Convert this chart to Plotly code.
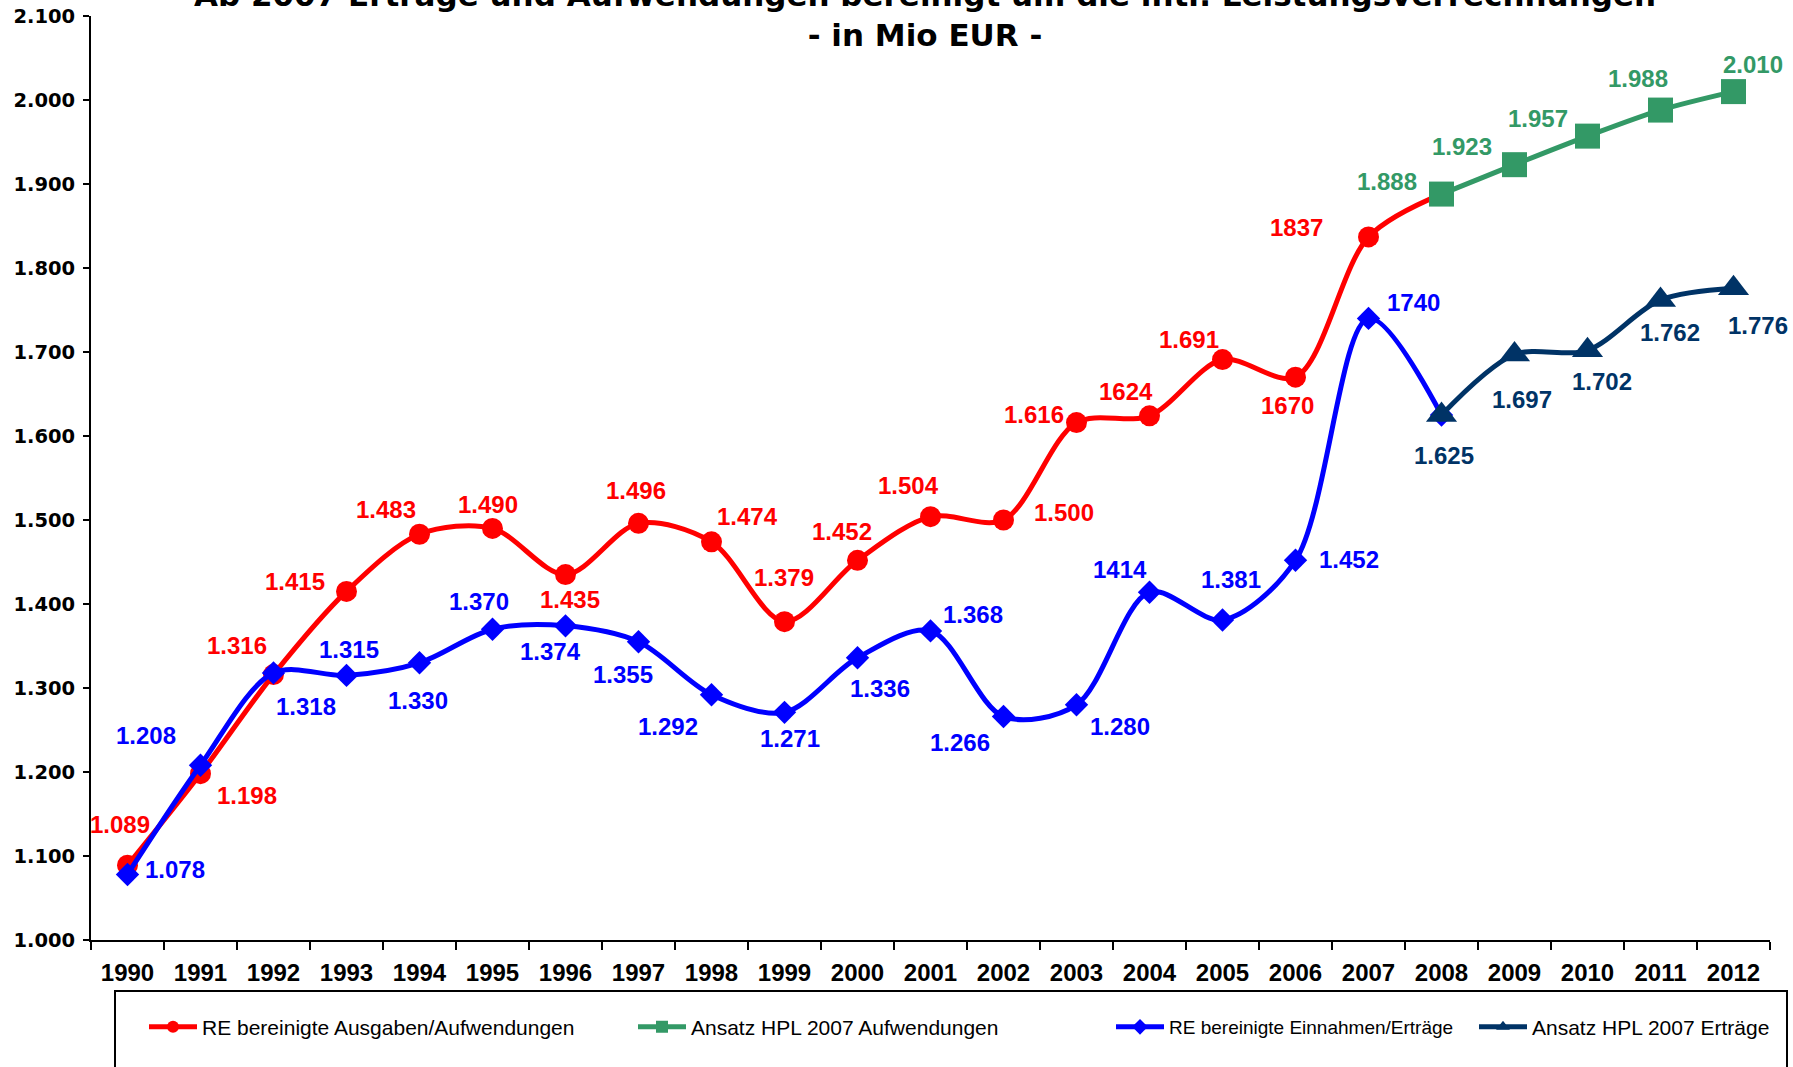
import plotly.graph_objects as go

# data (Mio EUR)
years = [str(y) for y in range(1990, 2013)]
years_ist = years[:19]      # 1990 - 2008
years_plan = years[18:]     # 2008 - 2012

ausgaben = [1089, 1198, 1316, 1415, 1483, 1490, 1435, 1496, 1474, 1379,
            1452, 1504, 1500, 1616, 1624, 1691, 1670, 1837, 1888]
ausgaben_labels = ["1.089", "1.198", "1.316", "1.415", "1.483", "1.490", "1.435", "1.496", "1.474", "1.379",
                   "1.452", "1.504", "1.500", "1.616", "1624", "1.691", "1670", "1837", ""]

einnahmen = [1078, 1208, 1318, 1315, 1330, 1370, 1374, 1355, 1292, 1271,
             1336, 1368, 1266, 1280, 1414, 1381, 1452, 1740, 1625]
einnahmen_labels = ["1.078", "1.208", "1.318", "1.315", "1.330", "1.370", "1.374", "1.355", "1.292", "1.271",
                    "1.336", "1.368", "1.266", "1.280", "1414", "1.381", "1.452", "1740", ""]

hpl_aufwendungen = [1888, 1923, 1957, 1988, 2010]
hpl_aufwendungen_labels = ["1.888", "1.923", "1.957", "1.988", "2.010"]

hpl_ertraege = [1625, 1697, 1702, 1762, 1776]
hpl_ertraege_labels = ["1.625", "1.697", "1.702", "1.762", "1.776"]

# label offsets from the marker in pixels (dx right, dy down)
off_ausgaben = [(-8, -41), (46, 22), (-37, -29), (-52, -10), (-34, -25), (-5, -24), (4, 25), (-3, -33),
                (36, -25), (-1, -44), (-16, -29), (-22, -31), (60, -8), (-43, -8), (-24, -24), (-34, -20),
                (-8, 28), (-72, -9), (0, 0)]
off_einnahmen = [(47, -5), (-55, -30), (32, 34), (2, -26), (-2, 38), (-14, -28), (-15, 26), (-16, 33),
                 (-44, 32), (5, 26), (22, 31), (42, -16), (-44, 26), (43, 22), (-30, -23), (8, -40),
                 (53, -1), (45, -16), (0, 0)]
off_hpl_aufw = [(-55, -13), (-53, -18), (-50, -18), (-23, -32), (19, -27)]
off_hpl_ertr = [(2, 40), (7, 45), (14, 31), (9, 33), (24, 37)]

RED = "#FF0000"
BLUE = "#0000FF"
GREEN = "#339966"
NAVY = "#003366"
ARIAL = "Liberation Sans, Arial, sans-serif"

W, H = 1793, 1067
ML, MR, MT, MB = 91, 23, 16, 127
PW, PH = W - ML - MR, H - MT - MB


def px_x(px):
    return (px - ML) / PW


def px_y(py):
    return (H - MB - py) / PH


def value_labels(xs, ys, labels, offsets, color):
    # category axis: annotations are placed by category index
    out = []
    for x, y, t, (dx, dy) in zip(xs, ys, labels, offsets):
        if not t:
            continue
        out.append(dict(
            x=years.index(x), y=y, xref="x", yref="y", text=t, showarrow=False,
            xanchor="center", yanchor="middle", xshift=dx, yshift=-dy,
            font=dict(family=ARIAL, size=24, color=color, weight="bold"),
        ))
    return out


fig = go.Figure()
fig.add_trace(go.Scatter(
    x=years_ist, y=ausgaben, name="RE bereinigte Ausgaben/Aufwendungen", legend="legend",
    mode="lines+markers",
    line=dict(color=RED, width=5, shape="spline", smoothing=0.9),
    marker=dict(symbol="circle", size=21, color=RED), cliponaxis=False,
))
fig.add_trace(go.Scatter(
    x=years_ist, y=einnahmen, name="RE bereinigte Einnahmen/Erträge", legend="legend3",
    mode="lines+markers",
    line=dict(color=BLUE, width=5, shape="spline", smoothing=0.9),
    marker=dict(symbol="diamond", size=18, color=BLUE), cliponaxis=False,
))
fig.add_trace(go.Scatter(
    x=years_plan, y=hpl_aufwendungen, name="Ansatz HPL 2007 Aufwendungen", legend="legend2",
    mode="lines+markers",
    line=dict(color=GREEN, width=5, shape="spline", smoothing=0.9),
    marker=dict(symbol="square", size=25, color=GREEN), cliponaxis=False,
))
fig.add_trace(go.Scatter(
    x=years_plan, y=hpl_ertraege, name="Ansatz HPL 2007 Erträge", legend="legend4",
    mode="lines+markers",
    line=dict(color=NAVY, width=5, shape="spline", smoothing=0.9),
    marker=dict(symbol="triangle-up", size=27, color=NAVY), cliponaxis=False,
))

annotations = []
annotations += value_labels(years_ist, ausgaben, ausgaben_labels, off_ausgaben, RED)
annotations += value_labels(years_ist, einnahmen, einnahmen_labels, off_einnahmen, BLUE)
annotations += value_labels(years_plan, hpl_aufwendungen, hpl_aufwendungen_labels, off_hpl_aufw, GREEN)
annotations += value_labels(years_plan, hpl_ertraege, hpl_ertraege_labels, off_hpl_ertr, NAVY)
annotations.append(dict(
    text="Ab 2007 Erträge und Aufwendungen bereinigt um die intr. Leistungsverrechnungen<br>- in Mio EUR -",
    xref="paper", yref="paper", x=0.497, y=px_y(55), xanchor="center", yanchor="bottom",
    showarrow=False, font=dict(family="DejaVu Sans", size=31, color="black", weight="bold"),
))


def legend_box(x_px, font_size=21):
    return dict(
        x=px_x(x_px), orientation="h", xanchor="left", yanchor="middle", y=px_y(1027),
        bgcolor="rgba(0,0,0,0)", borderwidth=0, itemsizing="constant", itemwidth=48,
        font=dict(family=ARIAL, size=font_size, color="black"),
    )


fig.update_layout(
    width=W, height=H,
    margin=dict(l=ML, r=MR, t=MT, b=MB, pad=0),
    paper_bgcolor="white", plot_bgcolor="white",
    separators=",.",
    showlegend=True,
    legend=legend_box(144),
    legend2=legend_box(633),
    legend3=legend_box(1111, 19),
    legend4=legend_box(1474),
    xaxis=dict(
        type="category", range=[-0.5, 22.5], tickson="boundaries", automargin=False,
        ticks="outside", ticklen=8, tickwidth=2, tickcolor="black", ticklabelstandoff=10,
        showline=True, linecolor="black", linewidth=2, showgrid=False, zeroline=False,
        tickfont=dict(family=ARIAL, size=24, color="black", weight="bold"),
    ),
    yaxis=dict(
        range=[1000, 2100], dtick=100, tickformat=",d", automargin=False,
        ticks="outside", ticklen=6, tickwidth=2, tickcolor="black", ticklabelstandoff=4,
        showline=True, linecolor="black", linewidth=2, showgrid=False, zeroline=False,
        tickfont=dict(family="DejaVu Sans", size=19.5, color="black", weight="bold"),
    ),
    annotations=annotations,
    shapes=[dict(
        type="rect", xref="paper", yref="paper",
        x0=px_x(115), x1=px_x(1787), y0=px_y(991), y1=px_y(1090),
        line=dict(color="black", width=2), fillcolor="rgba(0,0,0,0)",
    )],
)

# page body has a default 8px margin; drop it so the figure sits at the window corner
fig.write_html("out.html", config={"displayModeBar": False},
               post_script="document.body.style.margin = '0';")
